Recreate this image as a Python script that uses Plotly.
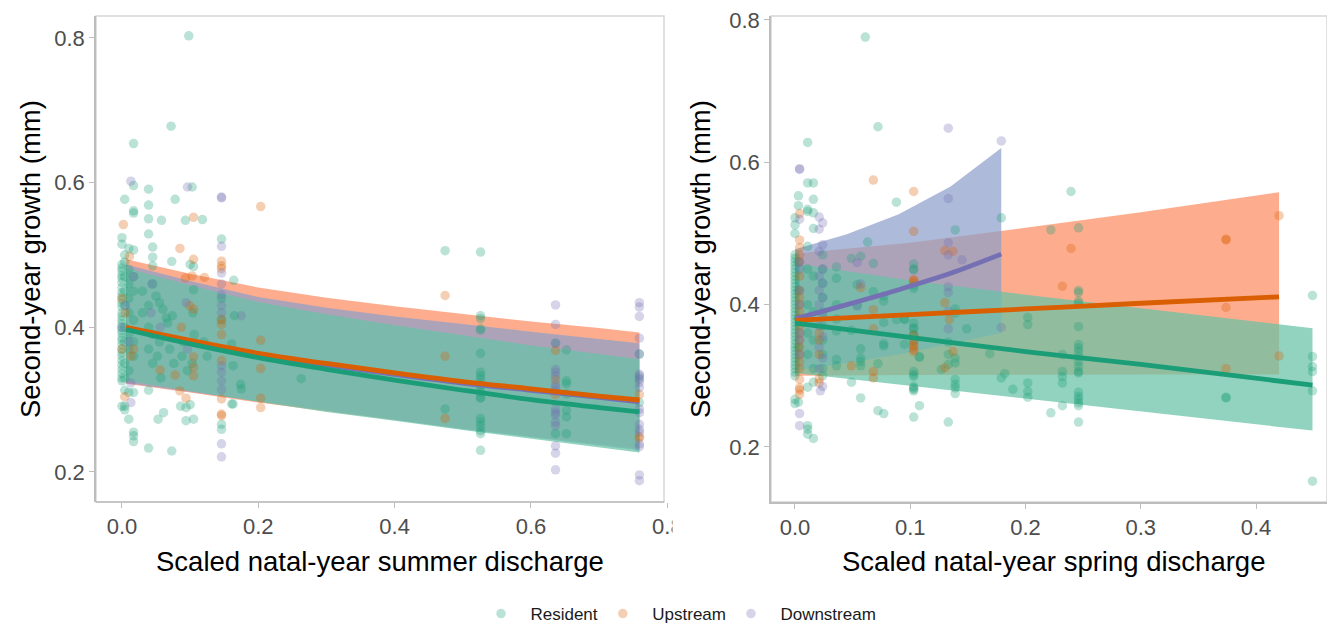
import plotly.graph_objects as go

# ---------------- data ----------------
groups = ["Resident", "Upstream", "Downstream"]
line_colors = {"Resident": "#1B9E77", "Upstream": "#D95F02", "Downstream": "#7570B3"}
ribbon_colors = {"Resident": "rgba(102,194,165,0.72)", "Upstream": "rgba(252,141,98,0.72)",
                 "Downstream": "rgba(141,160,203,0.72)"}

# Left panel: summer discharge
summer_res_x = [0]*34 + [0.004]*13 + [0.01]*10 + [0.017]*14 + [0.03]*2 + [0.039]*9 + [0.045]*6 + \
    [0.058, 0.05, 0.055, 0.06, 0.053, 0.061, 0.055, 0.052, 0.057] + \
    [0.078, 0.073, 0.074, 0.067, 0.065, 0.073, 0.07, 0.076, 0.072] + \
    [0.093, 0.086, 0.094, 0.1, 0.094, 0.1, 0.09, 0.088, 0.096, 0.098] + \
    [0.103, 0.105, 0.105, 0.105, 0.104, 0.106, 0.103] + [0.118, 0.12, 0.125] + \
    [0.146]*5 + [0.164, 0.161, 0.163, 0.174, 0.175, 0.161, 0.163, 0.165] + [0.263] + [0.474]*2 + \
    [0.526]*20 + [0.636]*2 + [0.652]*7 + [0.759]*3
summer_res_y = [0.524, 0.515, 0.487, 0.482, 0.478, 0.472, 0.468, 0.462, 0.455, 0.448, 0.443, 0.438, 0.433,
                0.428, 0.42, 0.415, 0.41, 0.405, 0.40, 0.396, 0.392, 0.386, 0.382, 0.376, 0.37, 0.365, 0.36,
                0.354, 0.348, 0.342, 0.336, 0.33, 0.326, 0.291] + \
    [0.577, 0.500, 0.49, 0.47, 0.45, 0.43, 0.40, 0.38, 0.35, 0.33, 0.313, 0.291, 0.286] + \
    [0.509, 0.48, 0.46, 0.44, 0.42, 0.39, 0.37, 0.34, 0.31, 0.273] + \
    [0.654, 0.596, 0.561, 0.558, 0.507, 0.47, 0.45, 0.41, 0.38, 0.36, 0.31, 0.255, 0.25, 0.242] + \
    [0.45, 0.42] + [0.591, 0.569, 0.550, 0.529, 0.313, 0.233, 0.43, 0.40, 0.37] + \
    [0.511, 0.497, 0.485, 0.46, 0.39, 0.35] + \
    [0.548, 0.443, 0.434, 0.425, 0.273, 0.282, 0.38, 0.36, 0.33] + \
    [0.577, 0.491, 0.416, 0.406, 0.413, 0.229, 0.37, 0.35, 0.678] + \
    [0.548, 0.291, 0.289, 0.293, 0.271, 0.487, 0.38, 0.36, 0.34, 0.803] + \
    [0.594, 0.484, 0.452, 0.273, 0.42, 0.39, 0.35] + [0.549, 0.38, 0.36] + \
    [0.522, 0.266, 0.259, 0.44, 0.41] + [0.465, 0.377, 0.347, 0.321, 0.315, 0.294, 0.294, 0.416] + [0.329] + \
    [0.506, 0.287] + \
    [0.504, 0.416, 0.412, 0.398, 0.396, 0.364, 0.338, 0.333, 0.328, 0.321, 0.317, 0.310, 0.303, 0.302,
     0.274, 0.269, 0.264, 0.257, 0.253, 0.230] + [0.378, 0.253] + \
    [0.369, 0.326, 0.322, 0.308, 0.285, 0.276, 0.253] + [0.363, 0.296, 0.33]

summer_up_x = [0.002, 0.011, 0.085, 0.105, 0.105, 0.093, 0.103, 0.121, 0.146, 0.146, 0.146, 0.2035, 0.099,
               0.105, 0.087, 0.146, 0.146, 0.146, 0.146, 0.146, 0.146, 0.146, 0.2035, 0.2035, 0.2035, 0.2035,
               0.056, 0.078, 0.105, 0.105, 0.105, 0.085, 0.094, 0.004, 0.474, 0.474, 0.474, 0.636, 0.636,
               0.636, 0.759, 0.759, 0.759, 0.0, 0.0, 0.005, 0.013, 0.017]
summer_up_y = [0.542, 0.498, 0.509, 0.552, 0.494, 0.468, 0.471, 0.469, 0.4915, 0.485, 0.481, 0.567, 0.43,
               0.425, 0.40, 0.411, 0.404, 0.390, 0.354, 0.301, 0.280, 0.278, 0.382, 0.343, 0.302, 0.289,
               0.341, 0.334, 0.359, 0.345, 0.333, 0.312, 0.302, 0.304, 0.444, 0.360, 0.274, 0.368, 0.328,
               0.307, 0.307, 0.249, 0.247, 0.44, 0.37, 0.42, 0.36, 0.37]

summer_dn_x = [0.013, 0.096, 0.146, 0.146, 0.146, 0.146, 0.146, 0.146, 0.146, 0.146, 0.146, 0.146, 0.146,
               0.146, 0.146, 0.146, 0.044, 0.0425, 0.094, 0.175, 0.013, 0.013, 0.056, 0.096, 0.017] + \
    [0.636]*17 + [0.759]*19 + [0.0, 0.01, 0.005]
summer_dn_y = [0.602, 0.594, 0.580, 0.579, 0.512, 0.475, 0.46, 0.445, 0.43, 0.42, 0.347, 0.338, 0.326,
               0.314, 0.239, 0.221, 0.46, 0.42, 0.434, 0.416, 0.323, 0.296, 0.40, 0.37, 0.47] + \
    [0.431, 0.404, 0.378, 0.342, 0.338, 0.333, 0.321, 0.317, 0.312, 0.287, 0.282, 0.279, 0.269, 0.264,
     0.236, 0.226, 0.203] + \
    [0.434, 0.428, 0.415, 0.385, 0.363, 0.335, 0.333, 0.328, 0.324, 0.317, 0.287, 0.282, 0.266, 0.259,
     0.255, 0.239, 0.235, 0.196, 0.188] + [0.40, 0.38, 0.43]

# Left panel fitted curves
summer_fit_x = [0.006, 0.1, 0.2, 0.3, 0.4, 0.5, 0.6, 0.7, 0.759]
summer_fit = {
    "Resident": [0.397, 0.377, 0.358, 0.342, 0.327, 0.313, 0.300, 0.289, 0.283],
    "Upstream": [0.400, 0.382, 0.364, 0.350, 0.337, 0.325, 0.315, 0.305, 0.2995],
    "Downstream": [0.398, 0.380, 0.362, 0.348, 0.335, 0.323, 0.313, 0.303, 0.297],
}
summer_upper = {
    "Resident": [0.482, 0.458, 0.435, 0.418, 0.403, 0.389, 0.375, 0.363, 0.356],
    "Upstream": [0.494, 0.474, 0.455, 0.441, 0.429, 0.418, 0.408, 0.399, 0.393],
    "Downstream": [0.487, 0.464, 0.442, 0.427, 0.415, 0.404, 0.394, 0.384, 0.378],
}
summer_lower = {
    "Resident": [0.326, 0.312, 0.297, 0.283, 0.271, 0.258, 0.246, 0.234, 0.227],
    "Upstream": [0.322, 0.310, 0.296, 0.284, 0.272, 0.260, 0.249, 0.238, 0.232],
    "Downstream": [0.323, 0.311, 0.297, 0.284, 0.272, 0.259, 0.248, 0.237, 0.230],
}

# Right panel: spring discharge
spring_res_x = [0]*40 + [0.003]*7 + [0.011]*13 + [0.016]*10 + [0.024]*10 + [0.036]*7 + [0.049]*3 + \
    [0.054]*2 + [0.057]*6 + [0.061] + [0.063] + [0.068]*2 + [0.072]*3 + [0.077]*6 + [0.088]*2 + \
    [0.095]*3 + [0.103]*19 + [0.108]*3 + [0.133, 0.133, 0.133, 0.127, 0.133] + [0.139]*9 + [0.149] + \
    [0.169] + [0.179, 0.179, 0.182] + [0.189] + [0.202]*5 + [0.222]*2 + [0.232]*5 + [0.2395] + \
    [0.246]*20 + [0.374]*2 + [0.449]*6
spring_res_y = [0.522, 0.512, 0.50, 0.47, 0.465, 0.46, 0.455, 0.45, 0.445, 0.44, 0.435, 0.43, 0.425, 0.42,
                0.415, 0.41, 0.405, 0.40, 0.395, 0.39, 0.385, 0.38, 0.375, 0.37, 0.365, 0.36, 0.355, 0.35,
                0.345, 0.34, 0.335, 0.33, 0.325, 0.32, 0.315, 0.31, 0.305, 0.30, 0.267, 0.261] + \
    [0.553, 0.539, 0.263, 0.46, 0.42, 0.38, 0.34] + \
    [0.628, 0.571, 0.534, 0.531, 0.482, 0.284, 0.230, 0.225, 0.218, 0.45, 0.40, 0.36, 0.33] + \
    [0.571, 0.548, 0.529, 0.507, 0.291, 0.212, 0.44, 0.39, 0.35, 0.31] + \
    [0.47, 0.45, 0.43, 0.41, 0.39, 0.37, 0.35, 0.33, 0.31, 0.30] + \
    [0.453, 0.437, 0.363, 0.323, 0.314, 0.40, 0.38] + [0.465, 0.364, 0.291] + [0.428, 0.399] + \
    [0.468, 0.338, 0.325, 0.320, 0.314, 0.269] + [0.776] + [0.488] + [0.458, 0.418] + \
    [0.650, 0.317, 0.251] + [0.412, 0.405, 0.375, 0.342, 0.345, 0.247] + [0.544, 0.379] + \
    [0.379, 0.380, 0.344] + \
    [0.457, 0.450, 0.449, 0.423, 0.427, 0.374, 0.367, 0.366, 0.358, 0.357, 0.349, 0.306, 0.302, 0.299,
     0.285, 0.283, 0.281, 0.279, 0.242] + [0.327, 0.326, 0.258] + [0.347, 0.330, 0.316, 0.309, 0.235] + \
    [0.505, 0.394, 0.388, 0.325, 0.318, 0.295, 0.288, 0.283, 0.275] + [0.366] + [0.331] + \
    [0.522, 0.297, 0.303] + [0.281] + [0.382, 0.372, 0.290, 0.278, 0.270] + [0.505, 0.248] + \
    [0.330, 0.306, 0.299, 0.290, 0.258] + [0.559] + \
    [0.508, 0.420, 0.417, 0.405, 0.402, 0.369, 0.344, 0.339, 0.334, 0.327, 0.320, 0.313, 0.306, 0.304,
     0.277, 0.271, 0.267, 0.262, 0.258, 0.235] + [0.270, 0.269] + [0.413, 0.327, 0.313, 0.306, 0.279, 0.152]

spring_up_x = [0.004]*22 + [0.021]*5 + [0.049, 0.057] + [0.068]*5 + [0.103]*11 + \
    [0.130, 0.137, 0.130, 0.134, 0.137, 0.130] + [0.2395] + [0.374]*4 + [0.42]*2 + [0.232]
spring_up_y = [0.528, 0.491, 0.48, 0.47, 0.46, 0.44, 0.42, 0.41, 0.40, 0.39, 0.38, 0.37, 0.36, 0.35, 0.34,
               0.33, 0.32, 0.31, 0.295, 0.283, 0.280, 0.274] + [0.36, 0.35, 0.33, 0.296, 0.29] + \
    [0.314, 0.424] + [0.575, 0.393, 0.366, 0.306, 0.297] + \
    [0.559, 0.503, 0.435, 0.434, 0.431, 0.357, 0.349, 0.344, 0.341, 0.337, 0.334] + \
    [0.476, 0.475, 0.403, 0.379, 0.334, 0.311] + [0.479] + [0.492, 0.491, 0.396, 0.310] + \
    [0.525, 0.328] + [0.426]

spring_dn_x = [0.004]*13 + [0.021, 0.024]*9 + [0.022] + [0.054, 0.057, 0.054] + [0.133]*8 + [0.145] + [0.179]*2
spring_dn_y = [0.591, 0.590, 0.520, 0.46, 0.45, 0.42, 0.40, 0.38, 0.36, 0.35, 0.33, 0.247, 0.230] + \
    [0.523, 0.515, 0.506, 0.484, 0.475, 0.45, 0.44, 0.43, 0.42, 0.41, 0.40, 0.385, 0.37, 0.355, 0.34,
     0.325, 0.31, 0.285, 0.279] + [0.459, 0.429, 0.398] + \
    [0.648, 0.549, 0.487, 0.470, 0.425, 0.417, 0.391, 0.366] + [0.463] + [0.630, 0.368]

spring_fit_x = {
    "Resident": [0.0, 0.1, 0.2, 0.3, 0.449],
    "Upstream": [0.0, 0.1, 0.2, 0.3, 0.42],
    "Downstream": [0.0, 0.045, 0.09, 0.135, 0.179],
}
spring_fit = {
    "Resident": [0.374, 0.354, 0.334, 0.316, 0.287],
    "Upstream": [0.378, 0.386, 0.394, 0.402, 0.411],
    "Downstream": [0.380, 0.400, 0.421, 0.444, 0.471],
}
spring_upper = {
    "Resident": [0.458, 0.434, 0.414, 0.395, 0.367],
    "Upstream": [0.472, 0.487, 0.508, 0.530, 0.558],
    "Downstream": [0.478, 0.499, 0.527, 0.566, 0.620],
}
spring_lower = {
    "Resident": [0.304, 0.286, 0.268, 0.250, 0.223],
    "Upstream": [0.300, 0.301, 0.302, 0.302, 0.302],
    "Downstream": [0.308, 0.318, 0.330, 0.345, 0.360],
}

x_ticks_summer = [0.0, 0.2, 0.4, 0.6, 0.8]
x_ticks_spring = [0.0, 0.1, 0.2, 0.3, 0.4]
y_ticks = [0.2, 0.4, 0.6, 0.8]

points = {
    "summer": {"Resident": (summer_res_x, summer_res_y), "Upstream": (summer_up_x, summer_up_y),
               "Downstream": (summer_dn_x, summer_dn_y)},
    "spring": {"Resident": (spring_res_x, spring_res_y), "Upstream": (spring_up_x, spring_up_y),
               "Downstream": (spring_dn_x, spring_dn_y)},
}

# ---------------- figure ----------------
W, H = 1327, 625
FONT = "Liberation Sans, Arial, sans-serif"
fig = go.Figure()

ribbon_order = ["Upstream", "Downstream", "Resident"]
line_order = ["Downstream", "Upstream", "Resident"]
NBSP = "\u00a0\u00a0"

def add_panel(key, xa, ya, fx, fit, up, lo, legend):
    for g in ribbon_order:
        xs = fx[g] if isinstance(fx, dict) else fx
        fig.add_trace(go.Scatter(x=list(xs) + list(xs)[::-1], y=up[g] + lo[g][::-1], fill="toself",
                                 fillcolor=ribbon_colors[g], line=dict(width=0), mode="lines",
                                 xaxis=xa, yaxis=ya, showlegend=False, hoverinfo="skip"))
    for g in groups:
        px, py = points[key][g]
        fig.add_trace(go.Scatter(x=px, y=py, mode="markers", name=NBSP + g, legendgroup=g,
                                 marker=dict(color=line_colors[g], size=9.5, opacity=0.3, line=dict(width=0)),
                                 xaxis=xa, yaxis=ya, showlegend=legend))
    for g in line_order:
        xs = fx[g] if isinstance(fx, dict) else fx
        fig.add_trace(go.Scatter(x=xs, y=fit[g], mode="lines", line=dict(color=line_colors[g], width=4.8,
                                 shape="spline"), xaxis=xa, yaxis=ya, showlegend=False, hoverinfo="skip"))

add_panel("summer", "x", "y", summer_fit_x, summer_fit, summer_upper, summer_lower, True)
add_panel("spring", "x2", "y2", spring_fit_x, spring_fit, spring_upper, spring_lower, False)

def px_x(p):
    return p / W

def px_y(p):
    return 1 - p / H

tickfont = dict(family=FONT, size=22, color="#4d4d4d")
axis_common = dict(showgrid=False, zeroline=False, ticks="outside", ticklen=5, tickcolor="#bdbdbd",
                   tickwidth=1.2, tickfont=tickfont, tickformat=".1f")
AXLINE = "#bdbdbd"
FRAME = "#d6d6d6"

# left panel: x axis extends past the frame so that the clipped "0.8" label can be shown
left_px_per_unit = 681.7
left_x0 = -0.0381
left_dom_end_px = 700

fig.update_layout(
    width=W, height=H, margin=dict(l=0, r=0, t=0, b=0, autoexpand=False),
    paper_bgcolor="white", plot_bgcolor="rgba(0,0,0,0)",
    font=dict(family=FONT, color="#1a1a1a"),
    xaxis=dict(domain=[px_x(96), px_x(left_dom_end_px)],
               range=[left_x0, left_x0 + (left_dom_end_px - 96) / left_px_per_unit],
               tickvals=x_ticks_summer, anchor="y", showline=False, **axis_common),
    yaxis=dict(domain=[px_y(502), px_y(16)], range=[0.1585, 0.8304], tickvals=y_ticks, anchor="x",
               showline=True, linecolor=AXLINE, linewidth=1.5, **axis_common),
    xaxis2=dict(domain=[px_x(771), 1.0], range=[-0.0208, 0.4616], tickvals=x_ticks_spring, anchor="y2",
                showline=True, linecolor=AXLINE, linewidth=1.5, **axis_common),
    yaxis2=dict(domain=[px_y(502), px_y(16)], range=[0.1227, 0.8056], tickvals=y_ticks, anchor="x2",
                showline=True, linecolor=AXLINE, linewidth=1.5, **axis_common),
    legend=dict(orientation="h", x=px_x(681), xanchor="center", y=px_y(596), yanchor="top",
                font=dict(family=FONT, size=17, color="#1a1a1a"), bgcolor="rgba(0,0,0,0)"),
    showlegend=True,
)

# panel frames
fig.add_shape(type="rect", xref="paper", yref="paper", x0=px_x(96), x1=px_x(664), y0=px_y(502), y1=px_y(16),
              line=dict(color=FRAME, width=1.5), fillcolor="rgba(0,0,0,0)", layer="below")
fig.add_shape(type="line", xref="paper", yref="paper", x0=px_x(96), x1=px_x(664), y0=px_y(502), y1=px_y(502),
              line=dict(color=AXLINE, width=1.5), layer="above")
fig.add_shape(type="rect", xref="x2 domain", yref="y2 domain", x0=0, x1=1, y0=0, y1=1,
              line=dict(color=FRAME, width=1.5), fillcolor="rgba(0,0,0,0)", layer="below")

# clip the "0.8" label like in the reference
fig.add_shape(type="rect", xref="paper", yref="paper", x0=px_x(672.5), x1=px_x(710), y0=px_y(548), y1=px_y(498),
              line=dict(width=0), fillcolor="white", layer="above")

title_font = dict(family=FONT, size=27.5, color="#000000")
common_ann = dict(xref="paper", yref="paper", showarrow=False, font=title_font,
                  xanchor="center", yanchor="middle")
fig.add_annotation(text="Second-year growth (mm)", x=px_x(30), y=px_y(259), textangle=-90, **common_ann)
fig.add_annotation(text="Second-year growth (mm)", x=px_x(700), y=px_y(259), textangle=-90, **common_ann)
fig.add_annotation(text="Scaled natal-year summer discharge", x=px_x(380), y=px_y(561), **common_ann)
fig.add_annotation(text="Scaled natal-year spring discharge", x=px_x(1053), y=px_y(561), **common_ann)

fig.write_html("out.html", config={"displayModeBar": False},
               post_script="document.body.style.margin='0px';")
